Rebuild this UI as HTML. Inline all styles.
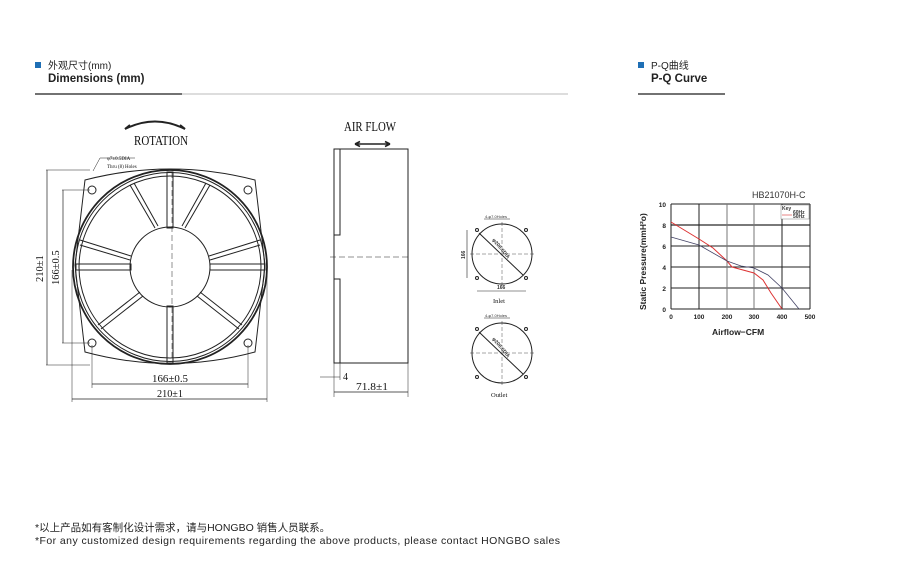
<!DOCTYPE html>
<html><head><meta charset="utf-8"><style>
body{margin:0;background:#fff;width:915px;height:563px;overflow:hidden;font-family:"Liberation Sans","Noto Sans CJK SC",sans-serif;}
svg{position:absolute;left:0;top:0}
</style></head><body>
<svg width="915" height="563" viewBox="0 0 915 563" xmlns="http://www.w3.org/2000/svg" font-family="Liberation Sans, Noto Sans CJK SC, sans-serif">
<!-- headers -->
<rect x="35" y="62" width="6" height="6" fill="#1f6fb5"/>
<text x="48" y="69" font-size="10" fill="#222">外观尺寸(mm)</text>
<text x="48" y="82" font-size="11.5" font-weight="bold" fill="#222">Dimensions (mm)</text>
<line x1="35" y1="94" x2="568" y2="94" stroke="#bbb" stroke-width="1"/>
<line x1="35" y1="94" x2="182" y2="94" stroke="#444" stroke-width="1.5"/>
<rect x="638" y="62" width="6" height="6" fill="#1f6fb5"/>
<text x="651" y="69" font-size="10" fill="#222">P-Q曲线</text>
<text x="651" y="82" font-size="11.5" font-weight="bold" fill="#222">P-Q Curve</text>
<line x1="638" y1="94" x2="725" y2="94" stroke="#444" stroke-width="1.5"/>

<!-- fan front -->
<g fill="none" stroke="#222" stroke-width="1">
<path d="M125 129 Q155 114 185 129" stroke-width="2"/>
<path d="M125 129 l5 -4 M185 129 l-5 -4" stroke-width="2"/>
<path d="M85 180 Q170 158 255 180 L265 265 L255 352 Q170 375 85 352 L75 265 Z"/>
<circle cx="170" cy="267" r="97" stroke-width="1.8"/>
<circle cx="170" cy="267" r="94.5"/>
<circle cx="170" cy="267" r="91"/>
<circle cx="170" cy="267" r="40"/>
<circle cx="92" cy="190" r="4"/><circle cx="248" cy="190" r="4"/>
<circle cx="92" cy="343" r="4"/><circle cx="248" cy="343" r="4"/>
<rect x="167" y="172" width="6" height="56"/><rect x="167" y="306" width="6" height="57"/>
<rect x="76" y="264" width="55" height="6"/><rect x="210" y="264" width="55" height="6"/>
<path d="M130 185 L155 228 M134 183 L158 226"/>
<path d="M210 185 L185 228 M206 183 L182 226"/>
<path d="M80 240 L131 256 M80 245 L130 260"/>
<path d="M260 240 L209 256 M260 245 L210 260"/>
<path d="M98 325 L140 292 M101 329 L143 296"/>
<path d="M242 325 L200 292 M239 329 L197 296"/>
<line x1="172" y1="172" x2="172" y2="362" stroke-dasharray="6 3" stroke-width="0.5"/>
<!-- dims -->
<line x1="46" y1="170" x2="90" y2="170" stroke-width="0.5"/><line x1="46" y1="365" x2="90" y2="365" stroke-width="0.5"/>
<line x1="47" y1="170" x2="47" y2="365" stroke-width="0.7"/>
<line x1="62" y1="190" x2="90" y2="190" stroke-width="0.5"/><line x1="62" y1="343" x2="90" y2="343" stroke-width="0.5"/>
<line x1="63" y1="190" x2="63" y2="343" stroke-width="0.7"/>
<line x1="92" y1="345" x2="92" y2="388" stroke-width="0.5"/><line x1="248" y1="345" x2="248" y2="388" stroke-width="0.5"/>
<line x1="92" y1="384" x2="248" y2="384" stroke-width="0.7"/>
<line x1="72" y1="270" x2="72" y2="402" stroke-width="0.5"/><line x1="267" y1="270" x2="267" y2="402" stroke-width="0.5"/>
<line x1="72" y1="399" x2="267" y2="399" stroke-width="0.7"/>
<path d="M93 171 L100 158 L135 158" stroke-width="0.5"/>
</g>
<g font-family="Liberation Serif, serif" fill="#111">
<text x="134" y="145" font-size="14" textLength="54" lengthAdjust="spacingAndGlyphs">ROTATION</text>
<text x="107" y="160" font-size="5">φ7±0.5DIA</text>
<text x="107" y="168" font-size="5">Thru (8) Holes</text>
<text x="152" y="382" font-size="10.5" textLength="36" lengthAdjust="spacingAndGlyphs">166±0.5</text>
<text x="157" y="397" font-size="10.5" textLength="26" lengthAdjust="spacingAndGlyphs">210±1</text>
<text transform="translate(43 282) rotate(-90)" font-size="10.5">210±1</text>
<text transform="translate(59 285) rotate(-90)" font-size="10.5">166±0.5</text>
<text x="344" y="131" font-size="14" textLength="52" lengthAdjust="spacingAndGlyphs">AIR FLOW</text>
<text x="343" y="380" font-size="10">4</text>
<text x="356" y="390" font-size="10.5" textLength="32" lengthAdjust="spacingAndGlyphs">71.8±1</text>
<text x="493" y="303" font-size="6.5">Inlet</text>
<text x="491" y="397" font-size="6.5">Outlet</text>
</g>
<!-- side view -->
<g fill="none" stroke="#222" stroke-width="1">
<path d="M355 144 L390 144 M355 144 l5 -2.5 M355 144 l5 2.5 M390 144 l-5 -2.5 M390 144 l-5 2.5" stroke-width="1.6"/>
<rect x="334" y="149" width="74" height="214"/>
<rect x="334" y="149" width="6" height="86"/><rect x="334" y="279" width="6" height="84"/>
<line x1="330" y1="257" x2="410" y2="257" stroke-dasharray="6 3" stroke-width="0.5"/>
<line x1="334" y1="363" x2="334" y2="397" stroke-width="0.5"/><line x1="408" y1="363" x2="408" y2="397" stroke-width="0.5"/>
<line x1="340" y1="363" x2="340" y2="380" stroke-width="0.5"/>
<line x1="320" y1="377" x2="340" y2="377" stroke-width="0.5"/>
<line x1="334" y1="392" x2="408" y2="392" stroke-width="0.7"/>
<!-- inlet/outlet -->
<circle cx="502" cy="254" r="30"/><circle cx="502" cy="353" r="30"/>
<line x1="470" y1="254" x2="534" y2="254" stroke-dasharray="4 2" stroke-width="0.4"/>
<line x1="502" y1="222" x2="502" y2="286" stroke-dasharray="4 2" stroke-width="0.4"/>
<line x1="470" y1="353" x2="534" y2="353" stroke-dasharray="4 2" stroke-width="0.4"/>
<line x1="502" y1="321" x2="502" y2="385" stroke-dasharray="4 2" stroke-width="0.4"/>
<line x1="479" y1="233" x2="523" y2="275"/><line x1="479" y1="332" x2="523" y2="374"/>
<circle cx="477" cy="230" r="1.5"/><circle cx="526" cy="230" r="1.5"/><circle cx="477" cy="278" r="1.5"/><circle cx="526" cy="278" r="1.5"/>
<circle cx="477" cy="329" r="1.5"/><circle cx="526" cy="329" r="1.5"/><circle cx="477" cy="377" r="1.5"/><circle cx="526" cy="377" r="1.5"/>
<line x1="467" y1="230" x2="467" y2="278" stroke-width="0.6"/>
<line x1="477" y1="291" x2="526" y2="291" stroke-width="0.6"/>
<line x1="484" y1="219" x2="510" y2="219" stroke-width="0.6"/>
<line x1="484" y1="318" x2="510" y2="318" stroke-width="0.6"/>
</g>
<g font-size="4" fill="#333"><text x="485" y="218">4-φ7.0Holes</text><text x="485" y="317">4-φ7.0Holes</text></g>
<g font-size="5" fill="#333" font-weight="bold">
<text transform="translate(492 240) rotate(50)">φ206.6DIA</text>
<text transform="translate(492 339) rotate(50)">φ206.6DIA</text>
<text transform="translate(465 259) rotate(-90)">166</text>
<text x="497" y="289">166</text>
</g>

<!-- chart -->
<text x="752" y="198" font-size="9" fill="#333">HB21070H-C</text>
<g stroke="#222" stroke-width="1">
<line x1="671" y1="204" x2="810" y2="204"/><line x1="671" y1="225" x2="810" y2="225" stroke="#666" stroke-width="1.8"/>
<line x1="671" y1="246" x2="810" y2="246"/><line x1="671" y1="267" x2="810" y2="267"/>
<line x1="671" y1="288" x2="810" y2="288"/><line x1="671" y1="309" x2="810" y2="309"/>
<line x1="671" y1="204" x2="671" y2="309"/><line x1="699" y1="204" x2="699" y2="309"/>
<line x1="727" y1="204" x2="727" y2="309" stroke="#777"/><line x1="754" y1="204" x2="754" y2="309" stroke="#777"/>
<line x1="782" y1="204" x2="782" y2="309"/><line x1="810" y1="204" x2="810" y2="309"/>
</g>
<rect x="781" y="205" width="28" height="14" fill="#fff" stroke="#666" stroke-width="0.4"/>
<g font-size="5" fill="#333" font-weight="bold"><text x="782" y="210">Key</text><text x="793" y="214">60Hz</text><text x="793" y="218">50Hz</text></g>
<line x1="782" y1="215" x2="792" y2="215" stroke="#d33" stroke-width="0.6"/>
<polyline fill="none" stroke="#d33" stroke-width="1" points="671,222 699,239 713,248 727,261 732,267 754,273 763,280 771,293 782,309"/>
<polyline fill="none" stroke="#446" stroke-width="0.8" points="671,237 699,245 727,261 741,266 754,268 768,275 782,288 799,309"/>
<g font-size="6.5" fill="#222" text-anchor="middle" font-weight="bold">
<text x="671" y="319">0</text><text x="699" y="319">100</text><text x="727" y="319">200</text><text x="754" y="319">300</text><text x="782" y="319">400</text><text x="810" y="319">500</text>
</g>
<g font-size="6.5" fill="#222" text-anchor="end" font-weight="bold">
<text x="666" y="207">10</text><text x="666" y="228">8</text><text x="666" y="249">6</text><text x="666" y="270">4</text><text x="666" y="291">2</text><text x="666" y="312">0</text>
</g>
<text x="712" y="335" font-size="8.5" fill="#222" font-weight="bold">Airflow−CFM</text>
<text transform="translate(646 310) rotate(-90)" font-size="8.5" fill="#222" font-weight="bold">Static Pressure(mmH²o)</text>

<!-- footer -->
<text x="35" y="531" font-size="10.5" fill="#222">*以上产品如有客制化设计需求，请与HONGBO 销售人员联系。</text>
<text x="35" y="544" font-size="10.5" fill="#222" textLength="525">*For any customized design requirements regarding the above products, please contact HONGBO sales</text>
</svg>
</body></html>
